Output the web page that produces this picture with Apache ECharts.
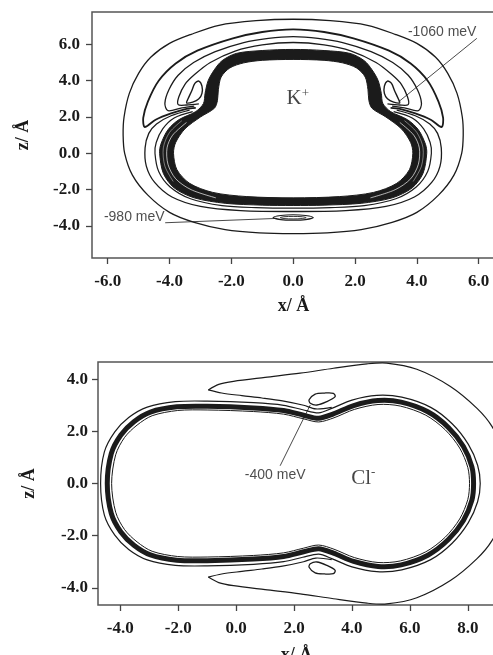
<!DOCTYPE html>
<html>
<head>
<meta charset="utf-8">
<script src="https://cdn.jsdelivr.net/npm/echarts@6.0.0/dist/echarts.min.js"></script>
<style>html,body{margin:0;padding:0;background:#fff}#c{width:493px;height:655px}</style>
</head>
<body>
<div id="c"></div>
<script>
// ---------- tick values ----------
const kXTicks = [-6, -4, -2, 0, 2, 4, 6];
const kZTicks = [-4, -2, 0, 2, 4, 6];
const cXTicks = [-4, -2, 0, 2, 4, 6, 8];
const cZTicks = [-4, -2, 0, 2, 4];

// ---------- K+ panel contours (x, z in Å) ----------
const kOuter = [[0,7.38],[1.2,7.3],[2.4,7.05],[3.3,6.55],[4.0,6.05],[4.6,5.3],[5.0,4.4],[5.3,3.3],[5.47,2.0],[5.5,1.0],[5.45,0],[5.2,-1.2],[4.7,-2.3],[4.0,-3.25],[3.2,-3.8],[2.2,-4.2],[1.1,-4.38],[0,-4.42],[-1.1,-4.38],[-2.2,-4.2],[-3.2,-3.8],[-4.0,-3.25],[-4.7,-2.3],[-5.2,-1.2],[-5.45,0],[-5.5,1.0],[-5.47,2.0],[-5.3,3.3],[-5.0,4.4],[-4.6,5.3],[-4.0,6.05],[-3.3,6.55],[-2.4,7.05],[-1.2,7.3]];
const kLobe1 = [[-3.15,2.5],[-3.45,2.45],[-3.95,2.2],[-4.45,1.85],[-4.8,1.45],[-4.85,1.95],[-4.7,2.85],[-4.35,4.0],[-3.8,4.95],[-3.1,5.65],[-1.95,6.33],[-1.0,6.68],[0,6.82],[1.0,6.68],[1.95,6.33],[3.1,5.65],[3.8,4.95],[4.35,4.0],[4.7,2.85],[4.85,1.95],[4.8,1.45],[4.45,1.85],[3.95,2.2],[3.45,2.45],[3.15,2.5]];
const kLobe2 = [[-3.2,2.6],[-3.6,2.5],[-4.05,2.35],[-4.15,2.75],[-4.02,3.5],[-3.72,4.3],[-3.22,5.0],[-2.52,5.6],[-1.6,6.1],[-0.8,6.33],[0,6.42],[0.8,6.33],[1.6,6.1],[2.52,5.6],[3.22,5.0],[3.72,4.3],[4.02,3.5],[4.15,2.75],[4.05,2.35],[3.6,2.5],[3.2,2.6]];
const kLobe3 = [[-3.05,2.72],[-3.45,2.66],[-3.72,2.68],[-3.7,3.1],[-3.5,3.8],[-3.18,4.35],[-2.68,5.0],[-1.88,5.63],[-1.0,5.97],[0,6.1],[1.0,5.97],[1.88,5.63],[2.68,5.0],[3.18,4.35],[3.5,3.8],[3.7,3.1],[3.72,2.68],[3.45,2.66],[3.05,2.72]];
const kRingC = [[-3.35,2.38],[-3.95,2.07],[-4.42,1.62],[-4.67,1.1],[-4.79,0.3],[-4.75,-0.7],[-4.48,-1.6],[-3.92,-2.4],[-3.0,-2.92],[-1.7,-3.15],[0,-3.2],[1.7,-3.15],[3.0,-2.92],[3.92,-2.4],[4.48,-1.6],[4.75,-0.7],[4.79,0.3],[4.67,1.1],[4.42,1.62],[3.95,2.07],[3.35,2.38]];
const kRingD = [[-3.25,2.3],[-3.85,1.95],[-4.22,1.35],[-4.43,0.6],[-4.47,0],[-4.35,-1.0],[-3.98,-1.85],[-3.32,-2.5],[-2.3,-2.88],[-1.2,-2.99],[0,-3.02],[1.2,-2.99],[2.3,-2.88],[3.32,-2.5],[3.98,-1.85],[4.35,-1.0],[4.47,0],[4.43,0.6],[4.22,1.35],[3.85,1.95],[3.25,2.3]];
const kPocketR = [[3.05,3.98],[2.95,3.7],[2.95,3.3],[3.05,3.0],[3.25,2.82],[3.45,2.78],[3.4,3.0],[3.28,3.45],[3.18,3.85]];
const kPocketL = [[-3.05,3.98],[-2.95,3.7],[-2.95,3.3],[-3.05,3.0],[-3.25,2.82],[-3.45,2.78],[-3.4,3.0],[-3.28,3.45],[-3.18,3.85]];
const kBandOuter = [[0,5.72],[1.0,5.66],[1.84,5.5],[2.3,5.1],[2.55,4.6],[2.75,4.0],[2.85,3.3],[2.9,2.75],[3.15,2.3],[3.7,1.85],[4.05,1.3],[4.28,0.5],[4.32,0],[4.2,-1.1],[3.85,-1.9],[3.2,-2.45],[2.2,-2.75],[1.0,-2.85],[0,-2.87],[-1.0,-2.85],[-2.2,-2.75],[-3.2,-2.45],[-3.85,-1.9],[-4.2,-1.1],[-4.32,0],[-4.28,0.5],[-4.05,1.3],[-3.7,1.85],[-3.15,2.3],[-2.9,2.75],[-2.85,3.3],[-2.75,4.0],[-2.55,4.6],[-2.3,5.1],[-1.84,5.5],[-1.0,5.66]];
const kBandInner = [[0,5.17],[1.0,5.12],[1.6,4.98],[2.05,4.7],[2.33,4.2],[2.42,3.5],[2.45,2.9],[2.55,2.48],[3.0,2.0],[3.5,1.35],[3.8,0.6],[3.87,0],[3.76,-0.9],[3.35,-1.65],[2.6,-2.15],[1.5,-2.38],[0,-2.45],[-1.5,-2.38],[-2.6,-2.15],[-3.35,-1.65],[-3.76,-0.9],[-3.87,0],[-3.8,0.6],[-3.5,1.35],[-3.0,2.0],[-2.55,2.48],[-2.45,2.9],[-2.42,3.5],[-2.33,4.2],[-2.05,4.7],[-1.6,4.98],[-1.0,5.12]];
const kGapR1 = [[3.45,1.7],[3.9,1.0],[4.08,0.3],[4.05,-0.6],[3.8,-1.4],[3.3,-2.0],[2.5,-2.45]];
const kGapL1 = [[-3.45,1.7],[-3.9,1.0],[-4.08,0.3],[-4.05,-0.6],[-3.8,-1.4],[-3.3,-2.0],[-2.5,-2.45]];
const kGapR2 = [[3.6,1.8],[4.0,1.15],[4.2,0.3],[4.15,-0.7],[3.88,-1.55]];
const kGapL2 = [[-3.6,1.8],[-4.0,1.15],[-4.2,0.3],[-4.15,-0.7],[-3.88,-1.55]];
const kMin980Out = [[0,-3.38],[0.4,-3.42],[0.65,-3.53],[0.4,-3.65],[0,-3.68],[-0.4,-3.65],[-0.65,-3.53],[-0.4,-3.42]];
const kMin980In = [[0,-3.47],[0.3,-3.49],[0.42,-3.54],[0.3,-3.59],[0,-3.61],[-0.3,-3.59],[-0.42,-3.54],[-0.3,-3.49]];
const kLead1060 = [[5.94,6.33],[3.41,2.84]];
const kLead980 = [[-4.14,-3.82],[-0.53,-3.58]];

// ---------- Cl- panel contours ----------
const cBand = [[-4.45,0],[-4.31,1.15],[-3.98,1.86],[-3.53,2.37],[-2.96,2.74],[-2.05,2.94],[-1.0,2.96],[0.6,2.9],[1.64,2.8],[2.33,2.62],[2.85,2.5],[3.36,2.67],[4.06,2.99],[4.9,3.18],[5.7,3.12],[6.62,2.75],[7.33,2.15],[7.85,1.42],[8.14,0.65],[8.2,0],[8.14,-0.65],[7.85,-1.42],[7.33,-2.15],[6.62,-2.75],[5.7,-3.12],[4.9,-3.18],[4.06,-2.99],[3.36,-2.67],[2.85,-2.5],[2.33,-2.62],[1.64,-2.8],[0.6,-2.9],[-1.0,-2.96],[-2.05,-2.94],[-2.96,-2.74],[-3.53,-2.37],[-3.98,-1.86],[-4.31,-1.15]];
const cBandOut = [[-4.68,0],[-4.55,1.21],[-4.19,1.98],[-3.71,2.53],[-3.07,2.93],[-2.1,3.14],[-1.0,3.16],[0.6,3.1],[1.64,3.0],[2.3,2.83],[2.85,2.71],[3.3,2.88],[4.0,3.2],[4.86,3.38],[5.72,3.31],[6.72,2.92],[7.46,2.29],[8.02,1.5],[8.34,0.7],[8.43,0],[8.34,-0.7],[8.02,-1.5],[7.46,-2.29],[6.72,-2.92],[5.72,-3.31],[4.86,-3.38],[4.0,-3.2],[3.3,-2.88],[2.85,-2.71],[2.3,-2.83],[1.64,-3.0],[0.6,-3.1],[-1.0,-3.16],[-2.1,-3.14],[-3.07,-2.93],[-3.71,-2.53],[-4.19,-1.98],[-4.55,-1.21]];
const cBandIn = [[-4.3,0],[-4.16,1.1],[-3.85,1.77],[-3.42,2.24],[-2.9,2.6],[-2.02,2.8],[-1.0,2.82],[0.6,2.76],[1.64,2.66],[2.33,2.48],[2.85,2.36],[3.38,2.52],[4.08,2.84],[4.9,3.03],[5.67,2.97],[6.55,2.62],[7.22,2.06],[7.72,1.36],[8.0,0.62],[8.06,0],[8.0,-0.62],[7.72,-1.36],[7.22,-2.06],[6.55,-2.62],[5.67,-2.97],[4.9,-3.03],[4.08,-2.84],[3.38,-2.52],[2.85,-2.36],[2.33,-2.48],[1.64,-2.66],[0.6,-2.76],[-1.0,-2.82],[-2.02,-2.8],[-2.9,-2.6],[-3.42,-2.24],[-3.85,-1.77],[-4.16,-1.1]];
const cFishOuter = [[-0.96,3.59],[-0.6,3.8],[-0.09,3.92],[1.0,4.07],[2.21,4.23],[3.36,4.42],[4.52,4.59],[5.2,4.62],[6.24,4.38],[7.4,3.72],[8.32,2.88],[8.84,2.18],[9.3,1.1],[9.42,0],[9.3,-1.1],[8.84,-2.18],[8.32,-2.88],[7.4,-3.72],[6.24,-4.38],[5.2,-4.62],[4.52,-4.59],[3.36,-4.42],[2.21,-4.23],[1.0,-4.07],[-0.09,-3.92],[-0.6,-3.8],[-0.96,-3.59]];
const cFishInnerTop = [[-0.96,3.59],[-0.5,3.47],[0.2,3.37],[0.89,3.28],[1.6,3.17],[2.33,3.0],[2.75,2.86],[3.3,2.92]];
const cFishInnerBot = [[-0.96,-3.59],[-0.5,-3.47],[0.2,-3.37],[0.89,-3.28],[1.6,-3.17],[2.33,-3.0],[2.75,-2.86],[3.3,-2.92]];
const cPocketTop = [[2.52,3.21],[2.73,3.43],[3.05,3.47],[3.36,3.46],[3.42,3.33],[3.13,3.14],[2.79,3.01],[2.56,3.08]];
const cPocketBot = [[2.52,-3.21],[2.73,-3.43],[3.05,-3.47],[3.36,-3.46],[3.42,-3.33],[3.13,-3.14],[2.79,-3.01],[2.56,-3.08]];
const cLead400 = [[1.52,0.68],[2.56,3.01]];

// ---------- text labels (anchor in data coords) ----------
const kLabels = [[4.82, 6.68, '-1060 meV'], [-5.14, -3.5, '-980 meV']];
const kIon = [[0.15, 3.0, 'K']];
const cLabels = [[1.35, 0.32, '-400 meV']];
const cIon = [[4.39, 0.2, 'Cl']];

// ---------- build chart ----------
const INK = '#1b1b1b';
function shape(gi, pts, o) {
  o = o || {};
  return {
    type: 'custom', xAxisIndex: gi, yAxisIndex: gi, clip: true, silent: true, animation: false,
    z: o.z || 5,
    data: [[pts[0][0], pts[0][1]]],
    renderItem: function (params, api) {
      return {
        type: o.closed ? 'polygon' : 'polyline',
        shape: { points: pts.map(function (p) { return api.coord(p); }), smooth: o.smooth === undefined ? 0.3 : o.smooth },
        style: { fill: o.fill || 'none', stroke: o.stroke || INK, lineWidth: o.lw || 1.2, opacity: o.opacity == null ? 1 : o.opacity }
      };
    }
  };
}
function textSeries(gi, arr, fmt, rich, base) {
  return {
    type: 'scatter', xAxisIndex: gi, yAxisIndex: gi, silent: true, animation: false, z: 20,
    symbolSize: 1, itemStyle: { color: 'rgba(0,0,0,0)' },
    data: arr.map(function (a) { return [a[0], a[1], a[2]]; }),
    label: Object.assign({ show: true, position: 'inside', formatter: fmt, rich: rich || {} }, base || {})
  };
}
const tickFont = { fontFamily: 'Liberation Serif', fontWeight: 'bold', fontSize: 17, color: '#1a1a1a' };
const nameFont = { fontFamily: 'Liberation Serif', fontWeight: 'bold', fontSize: 18, color: '#1a1a1a' };
function xAx(gi, min, max, ticks, gap) {
  return {
    gridIndex: gi, type: 'value', min: min, max: max,
    axisLine: { show: false, onZero: false }, splitLine: { show: false },
    axisTick: { show: true, customValues: ticks, length: 6, lineStyle: { color: '#444', width: 1.3 } },
    axisLabel: Object.assign({ customValues: ticks, margin: 15, formatter: function (v) { return v.toFixed(1); } }, tickFont),
    name: 'x/ Å', nameLocation: 'middle', nameGap: gap, nameTextStyle: nameFont
  };
}
function yAx(gi, min, max, ticks, margin, gap) {
  return {
    gridIndex: gi, type: 'value', min: min, max: max,
    axisLine: { show: false, onZero: false }, splitLine: { show: false },
    axisTick: { show: true, customValues: ticks, length: 6, lineStyle: { color: '#444', width: 1.3 } },
    axisLabel: Object.assign({ customValues: ticks, margin: margin, formatter: function (v) { return v.toFixed(1); } }, tickFont),
    name: 'z/ Å', nameLocation: 'middle', nameRotate: 90, nameGap: gap, nameTextStyle: nameFont
  };
}
const ionRich = {
  b: { fontFamily: 'Liberation Serif', fontSize: 21, color: '#151515' },
  s: { fontFamily: 'Liberation Serif', fontSize: 13, color: '#151515', padding: [0, 0, 11, 0] }
};
const noteStyle = { fontFamily: 'Liberation Sans', fontSize: 14, color: '#222' };

const series = [
  shape(0, kBandOuter, { closed: true, fill: INK, lw: 1, z: 2 }),
  shape(0, kBandInner, { closed: true, fill: '#fff', stroke: INK, lw: 1, z: 3 }),
  shape(0, kGapR1, { stroke: '#fff', lw: 0.8, z: 4, opacity: 0.85 }),
  shape(0, kGapL1, { stroke: '#fff', lw: 0.8, z: 4, opacity: 0.85 }),
  shape(0, kGapR2, { stroke: '#fff', lw: 0.6, z: 4, opacity: 0.7 }),
  shape(0, kGapL2, { stroke: '#fff', lw: 0.6, z: 4, opacity: 0.7 }),
  shape(0, kOuter, { closed: true, lw: 1.3 }),
  shape(0, kLobe1, { lw: 1.8 }),
  shape(0, kLobe2, { lw: 1.3 }),
  shape(0, kLobe3, { lw: 1.3 }),
  shape(0, kRingC, { lw: 1.3 }),
  shape(0, kRingD, { lw: 1.2 }),
  shape(0, kPocketR, { closed: true, lw: 1.4 }),
  shape(0, kPocketL, { closed: true, lw: 1.4 }),
  shape(0, kMin980Out, { closed: true, lw: 1.2 }),
  shape(0, kMin980In, { closed: true, lw: 0.9 }),
  shape(0, kLead1060, { lw: 0.8, smooth: 0 }),
  shape(0, kLead980, { lw: 0.8, smooth: 0 }),
  textSeries(0, kLabels, function (p) { return p.value[2]; }, null, noteStyle),
  textSeries(0, kIon, function (p) { return '{b|' + p.value[2] + '}{s|+}'; }, ionRich),

  shape(1, cBand, { closed: true, lw: 5 }),
  shape(1, cBandOut, { closed: true, lw: 1.2 }),
  shape(1, cBandIn, { closed: true, lw: 1.0 }),
  shape(1, cFishOuter, { lw: 1.2 }),
  shape(1, cFishInnerTop, { lw: 1.2 }),
  shape(1, cFishInnerBot, { lw: 1.2 }),
  shape(1, cPocketTop, { closed: true, lw: 1.3 }),
  shape(1, cPocketBot, { closed: true, lw: 1.3 }),
  shape(1, cLead400, { lw: 0.8, smooth: 0 }),
  textSeries(1, cLabels, function (p) { return p.value[2]; }, null, noteStyle),
  textSeries(1, cIon, function (p) { return '{b|' + p.value[2] + '}{s|-}'; }, ionRich)
];

const chart = echarts.init(document.getElementById('c'), null, { renderer: 'canvas' });
chart.setOption({
  animation: false,
  backgroundColor: '#fff',
  grid: [
    { left: 92, top: 12, width: 403, height: 246, show: true, borderColor: '#555', borderWidth: 1.5, backgroundColor: 'transparent', containLabel: false, outerBoundsMode: 'none' },
    { left: 98, top: 362, width: 397, height: 243, show: true, borderColor: '#555', borderWidth: 1.5, backgroundColor: 'transparent', containLabel: false, outerBoundsMode: 'none' }
  ],
  xAxis: [xAx(0, -6.507, 6.528, kXTicks, 39), xAx(1, -4.77, 8.94, cXTicks, 41)],
  yAxis: [yAx(0, -5.76, 7.78, kZTicks, 12, 60), yAx(1, -4.66, 4.66, cZTicks, 10, 60)],
  series: series
});
</script>
</body>
</html>
